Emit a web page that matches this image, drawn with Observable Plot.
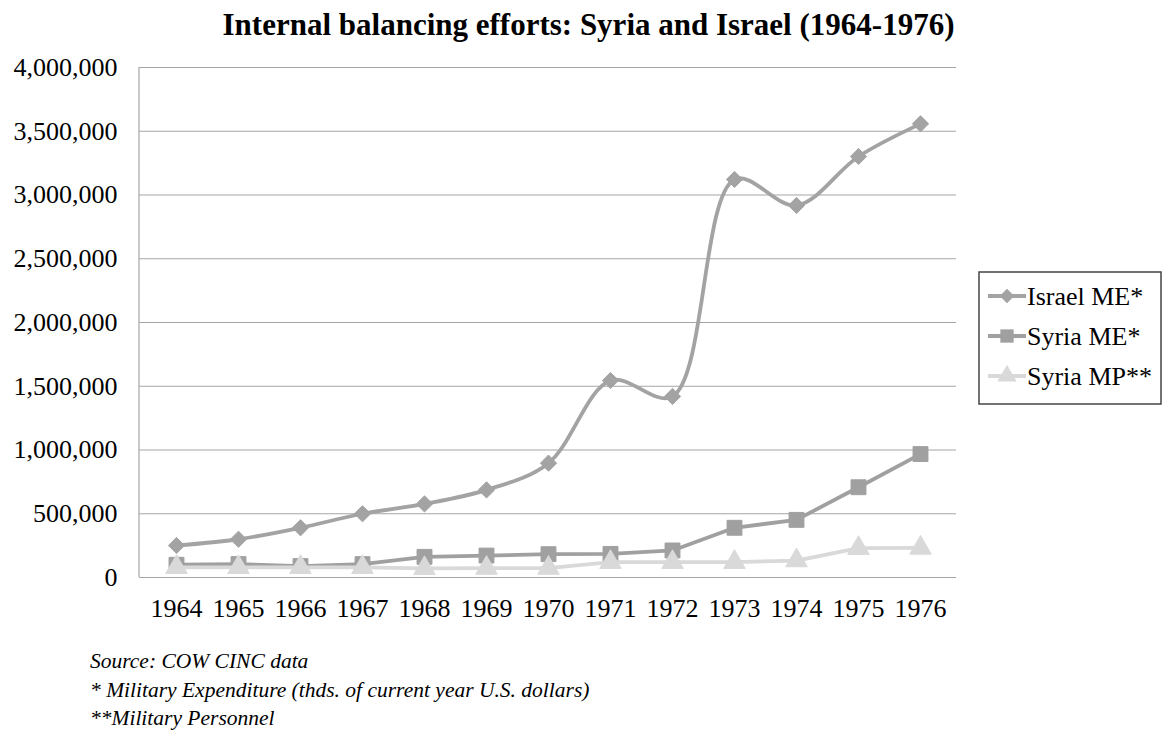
<!DOCTYPE html>
<html>
<head>
<meta charset="utf-8">
<script src="https://cdn.jsdelivr.net/npm/d3@7"></script>
<script src="https://cdn.jsdelivr.net/npm/@observablehq/plot@0.6"></script>
<style>
  html, body { margin: 0; padding: 0; background: #fff; }
  body { width: 1163px; height: 733px; position: relative; overflow: hidden; font-family: "Liberation Serif", "Times New Roman", serif; color: #000; }
  #title { position: absolute; left: 0; top: 6px; width: 1177px; text-align: center; font-weight: bold; font-size: 31px; line-height: 38px; }
  #chart { position: absolute; left: 0; top: 50px; }
  #notes { position: absolute; left: 90px; top: 647px; font-style: italic; font-size: 21.5px; line-height: 28.5px; }
  #legend { position: absolute; left: 978px; top: 271px; }
</style>
</head>
<body>
<div id="title">Internal balancing efforts: Syria and Israel (1964-1976)</div>
<div id="chart"></div>
<div id="legend"></div>
<div id="notes">
  <div>Source: COW CINC data</div>
  <div>* Military Expenditure (thds. of current year U.S. dollars)</div>
  <div>**Military Personnel</div>
</div>
<script>
// ---- data ----
const years = [1964, 1965, 1966, 1967, 1968, 1969, 1970, 1971, 1972, 1973, 1974, 1975, 1976];
const israelME = [251000, 300000, 390000, 500000, 577000, 687000, 897000, 1545000, 1420000, 3122000, 2918000, 3302000, 3558000];
const syriaME  = [100000, 105000, 90000, 105000, 162000, 172000, 183000, 185000, 212000, 390000, 452000, 708000, 968000];
const syriaMP  = [80000, 80000, 80000, 80000, 72000, 74000, 74000, 120000, 120000, 120000, 133000, 230000, 232000];
const seriesNames = ["Israel ME*", "Syria ME*", "Syria MP**"];
const yTicks = [0, 500000, 1000000, 1500000, 2000000, 2500000, 3000000, 3500000, 4000000];

const styles = {
  "Israel ME*": {color: "#a3a3a3", symbol: "diamond2", r: 7.3, curve: "catmull-rom"},
  "Syria ME*":  {color: "#a0a0a0", symbol: "square", r: 8.4, curve: "linear"},
  "Syria MP**": {color: "#d9d9d9", symbol: "triangle", r: 8, curve: "linear"}
};

const table = (name, vals) => years.map((yr, i) => ({year: yr, value: vals[i], series: name}));
const tIsrael = table(seriesNames[0], israelME);
const tSyriaME = table(seriesNames[1], syriaME);
const tSyriaMP = table(seriesNames[2], syriaMP);

const marks = [Plot.gridY(yTicks, {stroke: "#a6a6a6", strokeOpacity: 1, strokeWidth: 1.2})];
for (const [name, data] of [[seriesNames[0], tIsrael], [seriesNames[1], tSyriaME], [seriesNames[2], tSyriaMP]]) {
  const s = styles[name];
  marks.push(Plot.line(data, {x: "year", y: "value", stroke: s.color, strokeWidth: 3.8, curve: s.curve}));
  marks.push(Plot.dot(data, {x: "year", y: "value", symbol: () => s.symbol, fill: s.color, stroke: s.color, strokeWidth: 1, strokeLinejoin: "round", r: s.r}));
}

const plot = Plot.plot({
  width: 1163,
  height: 590,
  marginTop: 17,
  marginBottom: 63,
  marginLeft: 139,
  marginRight: 207,
  style: {fontFamily: "'Liberation Serif', 'Times New Roman', serif", fontSize: "26px", color: "#000", background: "#fff"},
  x: {type: "point", domain: years, padding: 0.5, tickSize: 0, tickPadding: 21, label: null, tickFormat: d => String(d)},
  y: {domain: [0, 4000000], ticks: yTicks, tickSize: 0, tickPadding: 22, label: null, tickFormat: d3.format(",")},
  symbol: {type: "identity"},
  marks
});
document.getElementById("chart").appendChild(plot);

// left axis line drawn from the plot's own scales
const xs = plot.scale("x"), ys = plot.scale("y");
const svg = d3.select(plot);
svg.append("line")
  .attr("x1", xs.range[0]).attr("x2", xs.range[0])
  .attr("y1", ys.range[0]).attr("y2", ys.range[1])
  .attr("stroke", "#a6a6a6").attr("stroke-width", 1.2);

// legend
const lg = d3.select("#legend").append("svg").attr("width", 185).attr("height", 135);
lg.append("rect").attr("x", 1).attr("y", 1).attr("width", 182).attr("height", 132)
  .attr("fill", "#fff").attr("stroke", "#444").attr("stroke-width", 1.5);
const symMap = {diamond2: d3.symbolDiamond2, square: d3.symbolSquare, triangle: d3.symbolTriangle};
seriesNames.forEach((name, i) => {
  const s = styles[name];
  const cy = 25 + i * 40;
  lg.append("line").attr("x1", 10).attr("x2", 48).attr("y1", cy).attr("y2", cy)
    .attr("stroke", s.color).attr("stroke-width", 3.8);
  lg.append("path").attr("transform", `translate(29,${cy})`)
    .attr("d", d3.symbol(symMap[s.symbol], Math.PI * s.r * s.r * 0.8)())
    .attr("fill", s.color);
  lg.append("text").attr("x", 49).attr("y", cy + 9).text(name)
    .attr("font-family", "'Liberation Serif', serif").attr("font-size", 26);
});
</script>
</body>
</html>
